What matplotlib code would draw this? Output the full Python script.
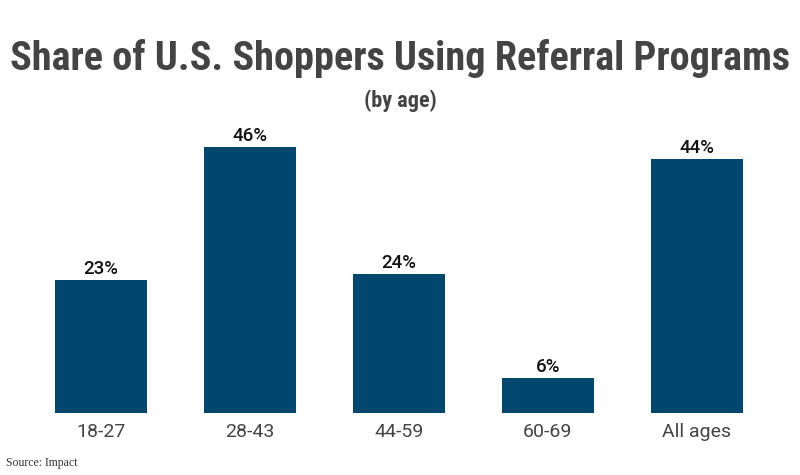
import matplotlib
matplotlib.use("Agg")
import matplotlib.pyplot as plt
from matplotlib import font_manager

categories = ["18-27", "28-43", "44-59", "60-69", "All ages"]
values = [23, 46, 24, 6, 44]
labels = ["23%", "46%", "24%", "6%", "44%"]

names = {f.name for f in font_manager.fontManager.ttflist}
cond = "Roboto Condensed" if "Roboto Condensed" in names else "Roboto"

fig = plt.figure(figsize=(8, 4.75), dpi=100)
ax = fig.add_axes([0.033, 0.1305, 0.931, 0.617])
x = range(len(categories))
ax.bar(x, values, width=0.617, color="#00476F")
for xi, v, l in zip(x, values, labels):
    ax.text(xi, v + 0.35, l, ha="center", va="bottom", fontsize=13.5,
            family="Roboto", fontweight="medium", color="#111111")
ax.set_xlim(-0.5, 4.5)
ax.set_ylim(0, 50.7)
ax.set_xticks(list(x))
ax.set_xticklabels(categories, family="Roboto", fontsize=14, color="#444444")
ax.tick_params(axis="x", length=0, pad=7)
ax.set_yticks([])
for s in ax.spines.values():
    s.set_visible(False)

fig.text(0.5, 0.876, "Share of U.S. Shoppers Using Referral Programs", ha="center", va="center",
         family=cond, fontweight="bold", fontsize=29 if cond != "Roboto" else 25, color="#444444")
fig.text(0.5, 0.787, "(by age)", ha="center", va="center", family=cond,
         fontweight="bold", fontsize=16, color="#444444")
fig.text(0.008, 0.025, "Source: Impact", ha="left", va="center", family="Liberation Serif",
         fontsize=8.5, color="#333333")
fig.savefig("out.png", dpi=100)
